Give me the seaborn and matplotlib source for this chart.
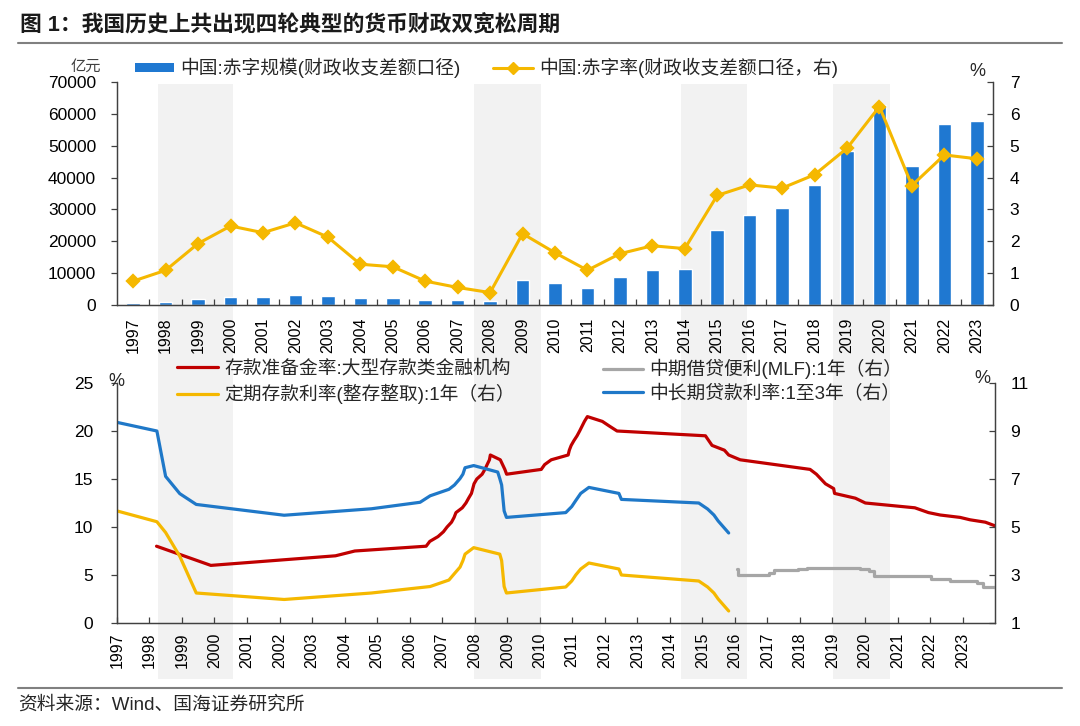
import numpy as np
import pandas as pd
import matplotlib
matplotlib.use('Agg')
import matplotlib.pyplot as plt
import matplotlib.transforms as mtransforms
import matplotlib.dates as mdates
from matplotlib.patches import Patch, Rectangle
from matplotlib.lines import Line2D
import seaborn as sns

# ---------------- data ----------------
years = [str(y) for y in range(1997, 2024)]
deficit_size = [582, 922, 1744, 2491, 2517, 3150, 2935, 2090, 2281, 1663, 1540, 1262,
                7782, 6772, 5374, 8699, 11002, 11416, 23609, 28150, 30492, 37544,
                48468, 62765, 43783, 56849, 57779]
deficit_rate = [0.75, 1.09, 1.93, 2.48, 2.27, 2.58, 2.13, 1.28, 1.20, 0.75, 0.55, 0.39,
                2.24, 1.64, 1.09, 1.61, 1.86, 1.77, 3.44, 3.77, 3.67, 4.09, 4.92, 6.23,
                3.75, 4.71, 4.59]

rrr_dates = ['1998-03-21', '1999-11-21', '2003-09-21', '2004-04-25', '2006-07-05',
             '2006-08-15', '2006-11-15', '2007-01-15', '2007-02-25', '2007-04-16',
             '2007-05-15', '2007-06-05', '2007-08-15', '2007-09-25', '2007-10-25',
             '2007-11-26', '2007-12-25', '2008-01-25', '2008-03-25', '2008-04-25',
             '2008-05-20', '2008-06-15', '2008-06-25', '2008-10-15', '2008-12-05',
             '2008-12-25', '2010-01-18', '2010-02-25', '2010-05-10', '2010-11-16',
             '2010-11-29', '2010-12-20', '2011-01-20', '2011-02-24', '2011-03-25',
             '2011-04-21', '2011-05-18', '2011-06-20', '2011-12-05', '2012-02-24',
             '2012-05-18', '2015-02-05', '2015-04-20', '2015-09-06', '2015-10-24',
             '2016-03-01', '2018-04-25', '2018-07-05', '2018-10-15', '2019-01-15',
             '2019-01-25', '2019-09-16', '2020-01-06', '2021-07-15', '2021-12-15',
             '2022-04-25', '2022-12-05', '2023-03-27', '2023-09-15', '2024-02-05']
rrr_vals = [8, 6, 7, 7.5, 8, 8.5, 9, 9.5, 10, 10.5, 11, 11.5, 12, 12.5, 13, 13.5, 14.5,
            15, 15.5, 16, 16.5, 17, 17.5, 17, 16, 15.5, 16, 16.5, 17, 17.5, 18, 18.5,
            19, 19.5, 20, 20.5, 21, 21.5, 21, 20.5, 20, 19.5, 18.5, 18, 17.5, 17, 16,
            15.5, 14.5, 14, 13.5, 13, 12.5, 12, 11.5, 11.25, 11, 10.75, 10.5, 10]

dep_dates = ['1997-01-01', '1998-03-25', '1998-07-01', '1998-12-07', '1999-06-10',
             '2002-02-21', '2004-10-29', '2006-08-19', '2007-03-18', '2007-05-19',
             '2007-07-21', '2007-08-22', '2007-09-15', '2007-12-21', '2008-10-09',
             '2008-10-30', '2008-11-27', '2008-12-23', '2010-10-20', '2010-12-26',
             '2011-02-09', '2011-04-06', '2011-07-07', '2012-06-08', '2012-07-06',
             '2014-11-22', '2015-03-01', '2015-05-11', '2015-06-28', '2015-08-26',
             '2015-10-24']
dep_vals = [5.67, 5.22, 4.77, 3.78, 2.25, 1.98, 2.25, 2.52, 2.79, 3.06, 3.33, 3.60,
            3.87, 4.14, 3.87, 3.60, 2.52, 2.25, 2.50, 2.75, 3.00, 3.25, 3.50, 3.25,
            3.00, 2.75, 2.50, 2.25, 2.00, 1.75, 1.50]

loan_dates = ['1997-01-01', '1998-03-25', '1998-07-01', '1998-12-07', '1999-06-10',
              '2002-02-21', '2004-10-29', '2006-04-28', '2006-08-19', '2007-03-18',
              '2007-05-19', '2007-07-21', '2007-08-22', '2007-09-15', '2007-12-21',
              '2008-09-16', '2008-10-09', '2008-10-30', '2008-11-27', '2008-12-23',
              '2010-10-20', '2010-12-26', '2011-02-09', '2011-04-06', '2011-07-07',
              '2012-06-08', '2012-07-06', '2014-11-22', '2015-03-01', '2015-05-11',
              '2015-06-28', '2015-08-26', '2015-10-24']
loan_vals = [9.36, 9.00, 7.11, 6.39, 5.94, 5.49, 5.76, 6.03, 6.30, 6.57, 6.75, 7.02,
             7.20, 7.47, 7.56, 7.29, 7.02, 6.75, 5.67, 5.40, 5.60, 5.85, 6.10, 6.40,
             6.65, 6.40, 6.15, 6.00, 5.75, 5.50, 5.25, 5.00, 4.75]

mlf_dates = ['2016-01-20', '2016-02-05', '2017-01-24', '2017-03-16', '2017-12-14',
             '2018-03-22', '2019-11-05', '2020-02-17', '2020-04-15', '2022-01-17',
             '2022-08-15', '2023-06-15', '2023-08-15', '2024-01-01']
mlf_vals = [3.25, 3.00, 3.10, 3.20, 3.25, 3.30, 3.25, 3.15, 2.95, 2.85, 2.75, 2.65,
            2.50, 2.50]

band_starts = ['1998-04-05', '2007-12-25', '2014-05-05', '2019-01-08']
band_ends = ['2000-07-25', '2010-01-15', '2016-05-15', '2020-10-08']

left_ticks_top = list(range(0, 70001, 10000))
right_ticks_top = list(range(0, 8))
left_ticks_bot = list(range(0, 26, 5))
right_ticks_bot = [1, 3, 5, 7, 9, 11]
bot_years = list(range(1997, 2024))

title = '图 1：我国历史上共出现四轮典型的货币财政双宽松周期'
source = '资料来源：Wind、国海证券研究所'
lab_bar = '中国:赤字规模(财政收支差额口径)'
lab_rate = '中国:赤字率(财政收支差额口径，右)'
lab_rrr = '存款准备金率:大型存款类金融机构'
lab_dep = '定期存款利率(整存整取):1年（右）'
lab_mlf = '中期借贷便利(MLF):1年（右）'
lab_loan = '中长期贷款利率:1至3年（右）'

# ---------------- style ----------------
BAR_BLUE = '#1F78D1'
GOLD = '#F5B800'
RED = '#C00000'
LINE_BLUE = '#1F78C8'
GRAY = '#A6A6A6'
BAND = '#F2F2F2'
SPINE = '#404040'
TXT = '#262626'

sns.set_theme(style='white')
plt.rcParams['font.family'] = ['Liberation Sans', 'Noto Sans CJK SC', 'DejaVu Sans']
plt.rcParams['axes.unicode_minus'] = False

W, H = 1080, 726
fig = plt.figure(figsize=(W / 100, H / 100), dpi=100)
fig.patch.set_facecolor('white')


def fx(px):
    return px / W


def fy(py):
    return 1 - py / H


ax1 = fig.add_axes([fx(117), fy(305), fx(993) - fx(117), fy(82) - fy(305)])
ax1b = ax1.twinx()
ax2 = fig.add_axes([fx(117), fy(623), fx(995) - fx(117), fy(383) - fy(623)])
ax2b = ax2.twinx()
for a in (ax1, ax1b, ax2, ax2b):
    a.patch.set_visible(False)

# ---------------- top chart ----------------
sns.barplot(x=years, y=deficit_size, ax=ax1, color=BAR_BLUE, saturation=1,
            width=0.42, zorder=2)
sns.pointplot(x=years, y=deficit_rate, ax=ax1b, color=GOLD, markers='D',
              linestyles='-', errorbar=None, markersize=6, linewidth=2.2)

ax1.set_xlim(-0.5, len(years) - 0.5)
ax1.set_ylim(0, 70000)
ax1.set_yticks(left_ticks_top)
ax1.set_yticklabels([str(v) for v in left_ticks_top])
ax1b.set_ylim(0, 7)
ax1b.set_yticks(right_ticks_top)
ax1b.set_yticklabels([str(v) for v in right_ticks_top])
ax1.set_xticks(range(len(years)))
ax1.set_xticklabels(years, rotation=90)
ax1.set_xticks(np.arange(0.5, len(years) - 1, 1.0), minor=True)
ax1.tick_params(axis='x', which='major', length=0, pad=9, labelsize=11.5, labelcolor='black')
ax1.tick_params(axis='x', which='minor', direction='in', length=4, width=0.9,
                color=SPINE, bottom=True)
ax1.tick_params(axis='y', direction='out', length=4, width=0.9, color=SPINE, pad=11,
                labelsize=12.5, labelcolor='black', left=True)
ax1b.tick_params(axis='y', direction='in', length=4, width=0.9, color=SPINE, pad=12,
                 labelsize=12.5, labelcolor='black', right=True)
for a in (ax1, ax1b):
    a.set_xlabel('')
    a.set_ylabel('')
    a.spines['top'].set_visible(False)
    for s in ('left', 'right', 'bottom'):
        a.spines[s].set_color(SPINE)
        a.spines[s].set_linewidth(0.9)

# ---------------- bottom chart ----------------
sns.lineplot(x=pd.to_datetime(rrr_dates), y=rrr_vals, ax=ax2, color=RED, linewidth=2.3)
sns.lineplot(x=pd.to_datetime(dep_dates), y=dep_vals, ax=ax2b, color=GOLD, linewidth=2.3)
sns.lineplot(x=pd.to_datetime(mlf_dates), y=mlf_vals, ax=ax2b, color=GRAY, linewidth=2.3,
             drawstyle='steps-post')
sns.lineplot(x=pd.to_datetime(loan_dates), y=loan_vals, ax=ax2b, color=LINE_BLUE,
             linewidth=2.3)

ax2.set_xlim(pd.Timestamp('1997-01-01'), pd.Timestamp('2024-01-01'))
ax2.set_ylim(0, 25)
ax2.set_yticks(left_ticks_bot)
ax2.set_yticklabels([str(v) for v in left_ticks_bot])
ax2b.set_ylim(1, 11)
ax2b.set_yticks(right_ticks_bot)
ax2b.set_yticklabels([str(v) for v in right_ticks_bot])
ax2.set_xticks([pd.Timestamp(f'{y}-01-01') for y in bot_years])
ax2.set_xticklabels([str(y) for y in bot_years], rotation=90)
ax2.tick_params(axis='x', direction='in', length=4, width=0.9, color=SPINE, pad=7,
                labelsize=11.5, labelcolor='black', bottom=True)
ax2.tick_params(axis='y', direction='out', length=4, width=0.9, color=SPINE, pad=13,
                labelsize=12.5, labelcolor='black', left=True)
ax2b.tick_params(axis='y', direction='in', length=4, width=0.9, color=SPINE, pad=11,
                 labelsize=12.5, labelcolor='black', right=True)
for a in (ax2, ax2b):
    a.set_xlabel('')
    a.set_ylabel('')
    a.spines['top'].set_visible(False)
    for s in ('left', 'right', 'bottom'):
        a.spines[s].set_color(SPINE)
        a.spines[s].set_linewidth(0.9)

# ---------------- shaded periods spanning both panels ----------------
blend = mtransforms.blended_transform_factory(ax2.transData, fig.transFigure)
for s, e in zip(band_starts, band_ends):
    x0 = mdates.date2num(pd.Timestamp(s))
    x1 = mdates.date2num(pd.Timestamp(e))
    rect = Rectangle((x0, fy(679)), x1 - x0, fy(84) - fy(679), transform=blend,
                     facecolor=BAND, edgecolor='none', zorder=-10)
    fig.add_artist(rect)

# ---------------- legends ----------------
FS = 13.5
EM = FS * 100 / 72


def add_leg(handle, label, x_px, y_px, hl_px, hh=0.7):
    fig.legend(handles=[handle], labels=[label], loc='center left',
               bbox_to_anchor=(fx(x_px), fy(y_px)), bbox_transform=fig.transFigure,
               frameon=False, borderpad=0, borderaxespad=0,
               handlelength=hl_px / EM, handleheight=hh, handletextpad=6 / EM,
               fontsize=FS, labelcolor=TXT)


add_leg(Patch(facecolor=BAR_BLUE, edgecolor='none'), lab_bar, 135, 68, 39, hh=0.42)
add_leg(Line2D([], [], color=GOLD, lw=2.2, marker='D', markersize=6), lab_rate, 493, 68, 40)
add_leg(Line2D([], [], color=RED, lw=2.3), lab_rrr, 177, 369, 41)
add_leg(Line2D([], [], color=GOLD, lw=2.3), lab_dep, 177, 394, 41)
add_leg(Line2D([], [], color=GRAY, lw=2.3), lab_mlf, 603, 369, 40)
add_leg(Line2D([], [], color=LINE_BLUE, lw=2.3), lab_loan, 603, 394, 40)

# ---------------- units, title, source ----------------
fig.text(fx(86), fy(67), '亿元', fontsize=11, color='#404040', ha='center', va='center')
fig.text(fx(977), fy(71), '%', fontsize=13, color=TXT, ha='center', va='center')
fig.text(fx(116), fy(382), '%', fontsize=13, color=TXT, ha='center', va='center')
fig.text(fx(982), fy(378), '%', fontsize=13, color=TXT, ha='center', va='center')

fig.text(fx(20), fy(26), title, fontsize=15.7, fontweight='bold', color='#1a1a1a',
         ha='left', va='center')
fig.add_artist(Line2D([fx(18), fx(1062)], [fy(43), fy(43)], color='#808080', lw=1.5,
                      transform=fig.transFigure))
fig.add_artist(Line2D([fx(18), fx(1062)], [fy(688), fy(688)], color='#808080', lw=1.5,
                      transform=fig.transFigure))
fig.text(fx(18), fy(705), source, fontsize=13.5, color=TXT, ha='left', va='center')

fig.savefig('out.png', dpi=100)
